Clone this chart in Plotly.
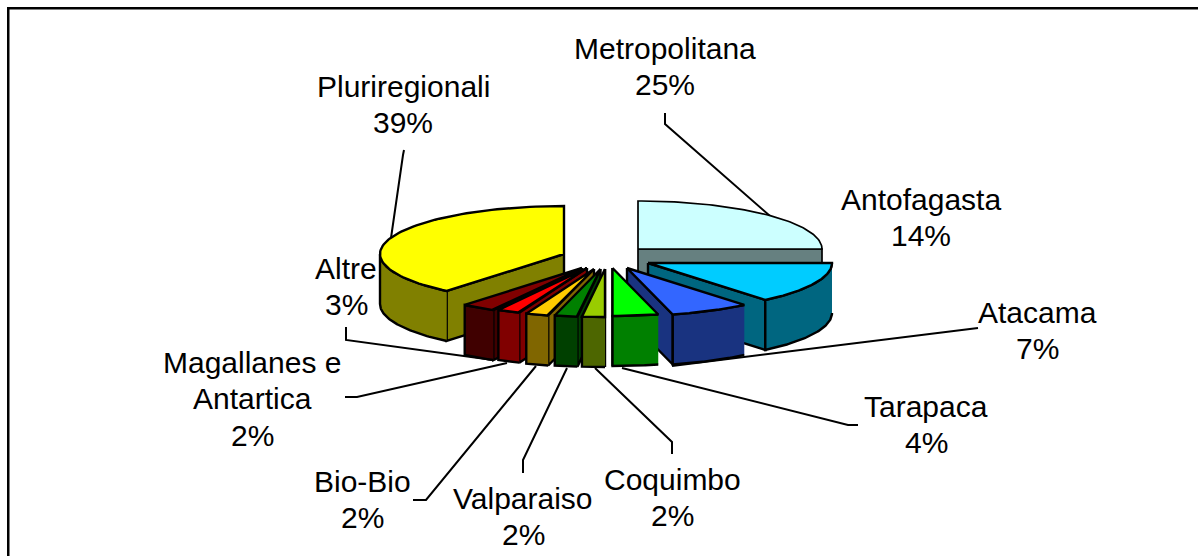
import numpy as np
import plotly.graph_objects as go

# --- data -------------------------------------------------------------
regions = ["Metropolitana", "Antofagasta", "Atacama", "Tarapaca", "Coquimbo",
           "Valparaiso", "Bio-Bio", "Magallanes e<br>Antartica", "Altre", "Pluriregionali"]
shares = [25, 14, 7, 4, 2, 2, 2, 2, 3, 39]

# --- styling ----------------------------------------------------------
top_colors = ["#CCFFFF", "#00CCFF", "#3366FF", "#00FF00", "#99CC00",
              "#008000", "#FFCC00", "#FF0000", "#800000", "#FFFF00"]
side_colors = ["#668080", "#006680", "#193380", "#008000", "#4D6600",
               "#004000", "#806600", "#800000", "#400000", "#808000"]
outline_widths = [1.7, 2.4, 2.4, 2.4, 2.4, 2.4, 2.4, 2.4, 2.4, 2.4]
apex_x = [638, 648, 627, 612.5, 605, 600.5, 594, 587, 582, 564]
apex_y = [249, 263, 268, 268, 269, 269, 269, 268, 268, 254]
RX, RY, DEPTH = 184, 48, 50
draw_order = [0, 9, 1, 8, 7, 6, 5, 4, 2, 3]

label_x = [665, 921, 1037, 926, 672, 523, 362, 252, 346, 403]
label_first_y = [48, 199, 312, 406, 479, 498, 481, 362, 268, 86]
LINE_STEP = 36.5

leaders_x = [[665, 665, 770], [404, 403, 391], [978, 672], [858, 848, 622], [672, 672, 595],
             [523, 523, 567], [413, 426, 536], [345, 357, 507], [346, 346, 493]]
leaders_y = [[113, 124, 216], [150, 155, 238], [328, 366], [425, 425, 368], [454, 442, 368],
             [473, 460, 368], [500, 500, 366], [397, 397, 363], [327, 340, 360]]

fig = go.Figure()


def poly(xs, ys, color, width):
    fig.add_trace(go.Scatter(x=xs, y=ys, mode="lines", fill="toself", fillcolor=color,
                             line=dict(color="black", width=width), hoverinfo="skip",
                             showlegend=False))


for lx, ly in zip(leaders_x, leaders_y):
    fig.add_trace(go.Scatter(x=lx, y=ly, mode="lines", line=dict(color="black", width=2),
                             hoverinfo="skip", showlegend=False))

total = sum(shares)
edges = np.concatenate([[0], np.cumsum(shares)]) / total * 360
for i in draw_order:
    a, b = edges[i], edges[i + 1]
    ax, ay = apex_x[i], apex_y[i]
    lw = outline_widths[i]
    px = lambda t: ax + RX * np.sin(np.radians(t))
    py = lambda t: ay - RY * np.cos(np.radians(t))
    if b <= 180:   # cut face at the end of the slice is visible
        poly([ax, px(b), px(b), ax, ax], [ay, py(b), py(b) + DEPTH, ay + DEPTH, ay], side_colors[i], lw)
    if a >= 180:   # cut face at the start of the slice is visible
        poly([ax, px(a), px(a), ax, ax], [ay, py(a), py(a) + DEPTH, ay + DEPTH, ay], side_colors[i], lw)
    w0, w1 = max(a, 90), min(b, 270)
    if w1 > w0:
        t = np.linspace(w0, w1, 60)
        poly(np.concatenate([px(t), px(t[::-1])]).tolist(),
             np.concatenate([py(t), py(t[::-1]) + DEPTH]).tolist(), side_colors[i], lw)
    t = np.linspace(a, b, 80)
    poly([ax] + px(t).tolist() + [ax], [ay] + py(t).tolist() + [ay], top_colors[i], lw)

for name, val, x, y in zip(regions, shares, label_x, label_first_y):
    for k, line in enumerate(name.split("<br>") + [f"{val}%"]):
        fig.add_annotation(x=x, y=y + k * LINE_STEP, text=line, showarrow=False,
                           xanchor="center", yanchor="middle", align="center",
                           font=dict(family="Liberation Sans, Arial", size=30, color="black"))

# chart frame: only the top and left edges fall inside the picture
fig.add_shape(type="path", path="M 8.25 600 L 8.25 8.25 L 1240 8.25",
              line=dict(color="black", width=2.5), layer="below")

fig.update_layout(width=1198, height=556, margin=dict(l=0, r=0, t=0, b=0),
                  paper_bgcolor="white", plot_bgcolor="white", showlegend=False,
                  xaxis=dict(range=[0, 1198], visible=False, fixedrange=True),
                  yaxis=dict(range=[556, 0], visible=False, fixedrange=True))
fig.write_html("out.html", config={"displayModeBar": False},
               post_script="document.body.style.margin='0';document.body.style.overflow='hidden';")
